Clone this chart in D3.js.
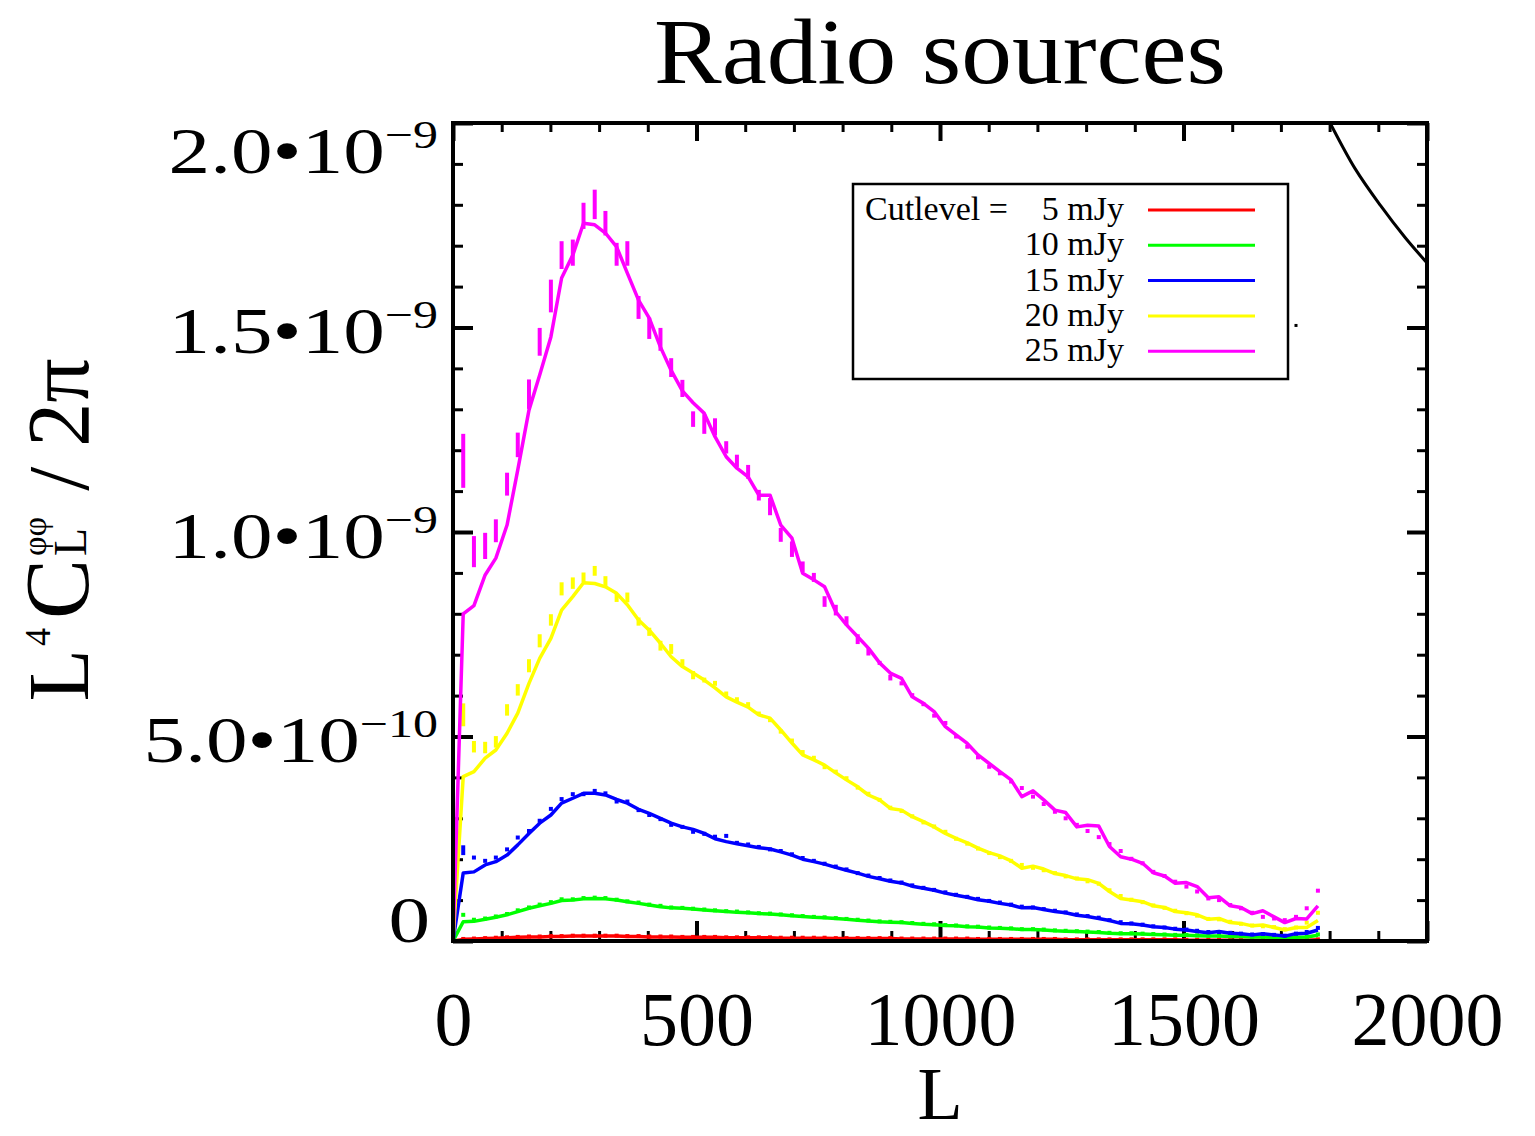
<!DOCTYPE html>
<html><head><meta charset="utf-8">
<script src="https://cdn.jsdelivr.net/npm/d3@7"></script>
<style>
body{margin:0;background:#fff;}
svg{display:block;}
text{font-family:"Liberation Serif","Times New Roman",serif;fill:#000;}
</style>
</head><body>
<svg id="c" width="1535" height="1136"></svg>
<script>
// ---------------- DATA (values in units of 1e-9) ----------------
const binL = [21,43,66,88,111,133,156,178,201,223,246,268,291,313,336,358,381,403,426,448,471,493,516,538,561,583,606,628,651,673,696,718,741,763,786,808,831,853,876,898,921,943,966,988,1011,1033,1056,1078,1101,1123,1146,1168,1191,1213,1236,1258,1281,1303,1326,1348,1371,1393,1416,1438,1461,1483,1506,1528,1551,1573,1596,1618,1641,1663,1686,1708,1731,1753,1776];

const seriesNames = ["5 mJy","10 mJy","15 mJy","20 mJy","25 mJy"];
const seriesColors = ["#ff0000","#00ff00","#0000ff","#ffff00","#ff00ff"];

const line5 = [0.004,0.005,0.006,0.007,0.008,0.009,0.010,0.010,0.011,0.011,
 0.012,0.012,0.012,0.012,0.012,0.011,0.011,0.010,0.010,0.010,
 0.009,0.009,0.009,0.009,0.008,0.008,0.008,0.008,0.008,0.007,
 0.007,0.007,0.007,0.007,0.006,0.006,0.006,0.006,0.006,0.006,
 0.005,0.005,0.005,0.005,0.005,0.005,0.005,0.004,0.004,0.004,
 0.004,0.004,0.004,0.004,0.004,0.003,0.003,0.003,0.003,0.003,
 0.003,0.003,0.003,0.003,0.003,0.003,0.002,0.002,0.002,0.002,
 0.002,0.002,0.002,0.002,0.002,0.002,0.002,0.002,0.003];
const pts5 = [0.005,0.006,0.007,0.008,0.009,0.010,0.011,0.011,0.012,0.012,
 0.013,0.013,0.013,0.013,0.013,0.012,0.012,0.011,0.011,0.011,
 0.010,0.010,0.010,0.010,0.009,0.009,0.009,0.009,0.009,0.008,
 0.008,0.008,0.008,0.008,0.007,0.007,0.007,0.007,0.007,0.007,
 0.006,0.006,0.006,0.006,0.006,0.006,0.006,0.005,0.005,0.005,
 0.005,0.005,0.005,0.005,0.005,0.004,0.004,0.004,0.004,0.004,
 0.004,0.004,0.004,0.004,0.004,0.004,0.003,0.003,0.003,0.003,
 0.003,0.003,0.003,0.003,0.003,0.003,0.003,0.003,0.004];

const line10 = [0.047,0.048,0.053,0.058,0.064,0.072,0.080,0.086,0.092,0.099,
 0.100,0.103,0.104,0.103,0.100,0.096,0.092,0.088,0.084,0.081,
 0.080,0.078,0.076,0.074,0.072,0.070,0.069,0.067,0.066,0.064,
 0.062,0.060,0.058,0.057,0.055,0.053,0.051,0.049,0.047,0.046,
 0.045,0.043,0.041,0.040,0.038,0.037,0.035,0.034,0.032,0.031,
 0.030,0.028,0.028,0.027,0.025,0.024,0.023,0.022,0.021,0.019,
 0.018,0.018,0.017,0.016,0.015,0.014,0.014,0.013,0.012,0.012,
 0.011,0.011,0.010,0.010,0.009,0.008,0.009,0.010,0.014];
const pts10 = [0.064,0.052,0.055,0.060,0.066,0.075,0.082,0.089,0.095,0.102,
 0.102,0.105,0.106,0.105,0.101,0.097,0.094,0.089,0.086,0.082,
 0.081,0.079,0.077,0.075,0.073,0.072,0.070,0.068,0.067,0.065,
 0.063,0.061,0.059,0.058,0.056,0.054,0.052,0.050,0.048,0.047,
 0.046,0.044,0.042,0.041,0.039,0.038,0.036,0.035,0.033,0.032,
 0.031,0.029,0.029,0.028,0.026,0.025,0.024,0.023,0.022,0.020,
 0.019,0.019,0.018,0.017,0.016,0.015,0.015,0.014,0.013,0.013,
 0.012,0.012,0.011,0.011,0.010,0.009,0.010,0.011,0.016];

const line15 = [0.166,0.169,0.186,0.194,0.210,0.235,0.263,0.288,0.308,0.337,
 0.349,0.361,0.361,0.357,0.346,0.337,0.322,0.312,0.300,0.288,
 0.279,0.273,0.263,0.250,0.243,0.238,0.233,0.228,0.225,0.218,
 0.210,0.200,0.194,0.188,0.180,0.173,0.166,0.158,0.152,0.146,
 0.142,0.134,0.129,0.124,0.117,0.112,0.107,0.101,0.097,0.092,
 0.088,0.081,0.082,0.077,0.072,0.069,0.063,0.060,0.055,0.050,
 0.043,0.042,0.039,0.035,0.033,0.029,0.027,0.023,0.020,0.023,
 0.019,0.018,0.015,0.018,0.015,0.012,0.018,0.019,0.027];
const pts15 = [0.222,0.204,0.196,0.204,0.224,0.253,0.269,0.294,0.323,0.347,
 0.359,0.359,0.367,0.361,0.341,0.341,0.320,0.308,0.298,0.284,
 0.279,0.267,0.262,0.255,0.257,0.240,0.236,0.230,0.224,0.220,
 0.212,0.203,0.196,0.189,0.182,0.175,0.166,0.160,0.154,0.148,
 0.143,0.136,0.130,0.125,0.119,0.113,0.108,0.103,0.098,0.094,
 0.089,0.084,0.082,0.078,0.074,0.070,0.065,0.061,0.057,0.051,
 0.046,0.043,0.040,0.036,0.033,0.030,0.028,0.025,0.022,0.022,
 0.020,0.018,0.016,0.017,0.015,0.013,0.018,0.022,0.032];
const err15 = [0.012,0.004,0.004,0.004,0.004,0.004,0.004,0.004,0.004,0.004,
 0.004,0.004,0.004,0.004,0.004,0.004,0.004,0.004,0.004,0.004,
 0.004,0.004,0.004,0.003,0.003,0.003,0.003,0.003,0.003,0.003];

const line20 = [0.402,0.414,0.447,0.467,0.508,0.557,0.630,0.691,0.740,0.809,
 0.842,0.876,0.874,0.866,0.850,0.822,0.785,0.760,0.728,0.695,
 0.671,0.655,0.638,0.619,0.597,0.584,0.572,0.553,0.545,0.516,
 0.484,0.455,0.443,0.430,0.411,0.394,0.377,0.357,0.345,0.324,
 0.320,0.304,0.292,0.279,0.263,0.251,0.240,0.227,0.216,0.208,
 0.196,0.178,0.183,0.176,0.165,0.160,0.152,0.150,0.141,0.121,
 0.104,0.100,0.096,0.086,0.082,0.072,0.069,0.064,0.053,0.055,
 0.045,0.043,0.037,0.039,0.033,0.027,0.033,0.033,0.050];
const pts20 = [0.553,0.475,0.473,0.487,0.565,0.614,0.673,0.734,0.785,0.861,
 0.875,0.889,0.905,0.880,0.839,0.840,0.781,0.756,0.722,0.714,
 0.681,0.650,0.638,0.630,0.604,0.590,0.578,0.556,0.540,0.512,
 0.490,0.462,0.448,0.425,0.414,0.398,0.375,0.360,0.345,0.326,
 0.318,0.305,0.290,0.280,0.267,0.250,0.238,0.226,0.215,0.205,
 0.196,0.186,0.179,0.173,0.166,0.158,0.153,0.146,0.140,0.124,
 0.110,0.101,0.095,0.087,0.081,0.074,0.068,0.062,0.054,0.053,
 0.047,0.042,0.038,0.036,0.034,0.029,0.033,0.045,0.069];
const err20 = [0.028,0.014,0.014,0.014,0.014,0.014,0.016,0.016,0.014,0.016,
 0.014,0.012,0.012,0.012,0.010,0.012,0.010,0.010,0.012,0.012,
 0.008,0.010,0.006,0.006,0.006,0.006,0.006,0.005,0.005,0.005,
 0.005,0.004,0.004,0.004,0.003,0.003,0.003,0.003,0.002,0.002];

const line25 = [0.800,0.820,0.895,0.936,1.017,1.152,1.298,1.384,1.477,1.621,
 1.677,1.755,1.751,1.731,1.697,1.633,1.567,1.523,1.452,1.395,
 1.345,1.316,1.290,1.233,1.184,1.156,1.135,1.090,1.090,1.017,
 0.985,0.899,0.883,0.866,0.805,0.773,0.744,0.716,0.680,0.655,
 0.642,0.597,0.581,0.561,0.524,0.504,0.483,0.455,0.434,0.414,
 0.394,0.353,0.367,0.345,0.320,0.314,0.279,0.283,0.281,0.231,
 0.206,0.200,0.190,0.167,0.159,0.141,0.143,0.133,0.106,0.108,
 0.086,0.082,0.067,0.074,0.059,0.045,0.055,0.054,0.086];
const pts25 = [1.174,0.952,0.966,1.003,1.117,1.213,1.337,1.465,1.577,1.677,
 1.683,1.773,1.801,1.755,1.679,1.681,1.549,1.498,1.471,1.402,
 1.351,1.276,1.264,1.257,1.207,1.174,1.147,1.090,1.062,0.993,
 0.958,0.915,0.889,0.830,0.809,0.783,0.738,0.707,0.680,0.644,
 0.630,0.601,0.579,0.551,0.533,0.500,0.475,0.449,0.426,0.410,
 0.390,0.374,0.353,0.335,0.316,0.300,0.284,0.269,0.254,0.237,
 0.220,0.201,0.190,0.169,0.159,0.145,0.133,0.121,0.104,0.100,
 0.088,0.080,0.069,0.059,0.055,0.051,0.059,0.080,0.123];
const err25 = [0.066,0.038,0.032,0.028,0.028,0.030,0.036,0.034,0.040,0.034,
 0.032,0.032,0.036,0.030,0.028,0.030,0.028,0.026,0.028,0.023,
 0.021,0.019,0.024,0.021,0.015,0.015,0.017,0.013,0.021,0.017,
 0.019,0.013,0.011,0.013,0.013,0.011,0.012,0.009,0.005,0.007,
 0.005,0.005,0.003,0.003,0.005,0.002,0.002,0.003,0.002,0.002];

const lineSeries = [line5, line10, line15, line20, line25];
const pointSeries = [pts5, pts10, pts15, pts20, pts25];
const errSeries = [[], [], err15, err20, err25];

const theoryL = [1780,1801,1852,1904,1955,2000];
const theoryV = [2.05,2.0,1.889,1.799,1.720,1.658];
const strayL = [1731];
const strayV = [1.505];

const xTicks = [0,500,1000,1500,2000];
const xTickLabels = ["0","500","1000","1500","2000"];
const yTicks = [0,0.5,1.0,1.5,2.0];
const yTickMant = ["0","5.0•10","1.0•10","1.5•10","2.0•10"];
const yTickExp = ["","−10","−9","−9","−9"];
const titleText = "Radio sources";
const xTitle = "L";
const legendHead = "Cutlevel =";

// ---------------- DRAWING ----------------
const svg = d3.select("#c");
const X0=453, X1=1427, Y0=123, Y1=941;
const x = d3.scaleLinear().domain([0,2000]).range([X0,X1]);
const y = d3.scaleLinear().domain([0,2]).range([Y1,Y0]);

svg.append("defs").append("clipPath").attr("id","clip")
  .append("rect").attr("x",X0).attr("y",Y0).attr("width",X1-X0).attr("height",Y1-Y0);

// title
svg.append("text").attr("x",(X0+X1)/2).attr("y",83).attr("text-anchor","middle")
  .attr("font-size",94).attr("textLength",572).attr("lengthAdjust","spacingAndGlyphs")
  .text(titleText);

// tick marks
const xMinor = d3.range(0,2001,100).filter(v=>v%500!==0);
const yMinor = d3.range(0,21).map(v=>v/10).filter(v=>Math.round(v*10)%5!==0);
function ticks(axis, tr, w){
  const g = svg.append("g").attr("transform",tr).call(axis);
  g.select(".domain").remove();
  g.selectAll("text").remove();
  g.selectAll("line").attr("stroke","#000").attr("stroke-width",w);
  return g;
}
ticks(d3.axisBottom(x).tickValues(xTicks).tickSize(-20), `translate(0,${Y1})`, 4);
ticks(d3.axisBottom(x).tickValues(xMinor).tickSize(-10), `translate(0,${Y1})`, 3);
ticks(d3.axisTop(x).tickValues(xTicks).tickSize(-18), `translate(0,${Y0})`, 4);
ticks(d3.axisTop(x).tickValues(xMinor).tickSize(-9), `translate(0,${Y0})`, 3);
ticks(d3.axisLeft(y).tickValues(yTicks).tickSize(-20), `translate(${X0},0)`, 4);
ticks(d3.axisLeft(y).tickValues(yMinor).tickSize(-10), `translate(${X0},0)`, 3);
ticks(d3.axisRight(y).tickValues(yTicks).tickSize(-20), `translate(${X1},0)`, 4);
ticks(d3.axisRight(y).tickValues(yMinor).tickSize(-10), `translate(${X1},0)`, 3);

// x tick labels
const xl = svg.append("g").attr("transform",`translate(0,${Y1})`)
  .call(d3.axisBottom(x).tickValues(xTicks).tickSize(0).tickPadding(50)
        .tickFormat((d,i)=>xTickLabels[i]));
xl.select(".domain").remove();
xl.selectAll("text").attr("font-size",76).attr("font-family","Liberation Serif").attr("fill","#000");

// y tick labels (mantissa + superscript exponent)
const yl = svg.append("g").attr("transform",`translate(${X0},0)`)
  .call(d3.axisLeft(y).tickValues(yTicks).tickSize(0).tickFormat(""));
yl.select(".domain").remove();
yl.selectAll(".tick").each(function(d){
  const i = yTicks.indexOf(d);
  const g = d3.select(this);
  const ty = y(d);
  const base = Math.min(Math.max(ty+25, Y0+49), Y1) - ty;
  const xEnd = -15;
  let supW = 0;
  if (yTickExp[i]) {
    const s = g.append("text").attr("text-anchor","end").attr("font-size",40)
      .attr("transform",`translate(${xEnd},${base-25}) scale(1.25,1)`).text(yTickExp[i]);
    supW = s.node().getComputedTextLength()*1.25;
  }
  g.append("text").attr("text-anchor","end").attr("font-size",66)
    .attr("transform",`translate(${xEnd-supW - (supW?0:8)},${base}) scale(1.26,1)`).text(yTickMant[i]);
});

// x title
svg.append("text").attr("x",(X0+X1)/2).attr("y",1119).attr("text-anchor","middle")
  .attr("font-size",74).text(xTitle);

// y title
const yt = svg.append("g").attr("transform",`translate(88,${(Y0+Y1)/2}) rotate(-90)`);
const ytIn = yt.append("g");
const pieces = [
  {t:"L", fs:86, dy:0, gap:0},
  {t:"4", fs:36, dy:-38, gap:3},
  {t:"C", fs:90, dy:0, gap:9},
  {stack:[{t:"φφ", fs:34, dy:-42},{t:"L", fs:46, dy:-2}], gap:3},
  {t:"/", fs:86, dy:0, gap:26},
  {t:"2π", fs:88, dy:0, gap:20}
];
let cur = 0;
pieces.forEach(p=>{
  cur += p.gap;
  if (p.stack) {
    let w = 0;
    p.stack.forEach(s=>{
      const t = ytIn.append("text").attr("x",cur).attr("y",s.dy).attr("font-size",s.fs).text(s.t);
      w = Math.max(w, t.node().getComputedTextLength());
    });
    cur += w;
  } else {
    const t = ytIn.append("text").attr("x",cur).attr("y",p.dy).attr("font-size",p.fs).text(p.t);
    cur += t.node().getComputedTextLength();
  }
});
ytIn.attr("transform",`translate(${-cur/2+2},0)`);

// data
const plot = svg.append("g").attr("clip-path","url(#clip)");
const lineGen = d3.line().x(d=>x(d[0])).y(d=>y(d[1]));
lineSeries.forEach((vals,si)=>{
  const col = seriesColors[si];
  const g = plot.append("g");
  const pts = pointSeries[si], errs = errSeries[si];
  g.selectAll("line.eb").data(binL.map((l,i)=>({l, v:pts[i], e:(errs[i]||0)})))
    .enter().append("line").attr("class","eb")
    .attr("x1",d=>x(d.l)).attr("x2",d=>x(d.l))
    .attr("y1",d=>{const c=y(d.v), h=Math.max(y(0)-y(d.e),2); return c-h;})
    .attr("y2",d=>{const c=y(d.v), h=Math.max(y(0)-y(d.e),2); return c+h;})
    .attr("stroke",col).attr("stroke-width",4);
  const data = [[0,0]].concat(binL.map((l,i)=>[l,vals[i]]));
  g.append("path").datum(data).attr("d",lineGen).attr("fill","none")
    .attr("stroke",col).attr("stroke-width",3.5).attr("stroke-linejoin","round");
});

// theory curve & stray point
plot.append("path").datum(theoryL.map((l,i)=>[l,theoryV[i]]))
  .attr("d",d3.line().x(d=>x(d[0])).y(d=>y(d[1])).curve(d3.curveCatmullRom))
  .attr("fill","none").attr("stroke","#000").attr("stroke-width",3);
plot.selectAll("rect.stray").data(strayL.map((l,i)=>[l,strayV[i]])).enter()
  .append("rect").attr("class","stray").attr("x",d=>x(d[0])-1.5).attr("y",d=>y(d[1])-1.5)
  .attr("width",3).attr("height",3).attr("fill","#000");

// frame
svg.append("rect").attr("x",X0).attr("y",Y0).attr("width",X1-X0).attr("height",Y1-Y0)
  .attr("fill","none").attr("stroke","#000").attr("stroke-width",4);

// legend
const lg = svg.append("g");
lg.append("rect").attr("x",853).attr("y",184).attr("width",435).attr("height",195)
  .attr("fill","#fff").attr("stroke","#000").attr("stroke-width",2.5);
lg.append("text").attr("x",865).attr("y",220).attr("font-size",34).text(legendHead);
const rows = lg.selectAll("g.row").data(seriesNames).enter().append("g").attr("class","row")
  .attr("transform",(d,i)=>`translate(0,${220+i*35.3})`);
rows.append("text").attr("x",1124).attr("y",0).attr("text-anchor","end").attr("font-size",34).text(d=>d);
rows.append("line").attr("x1",1148).attr("x2",1255).attr("y1",-10).attr("y2",-10)
  .attr("stroke",(d,i)=>seriesColors[i]).attr("stroke-width",3);
</script>
</body></html>
